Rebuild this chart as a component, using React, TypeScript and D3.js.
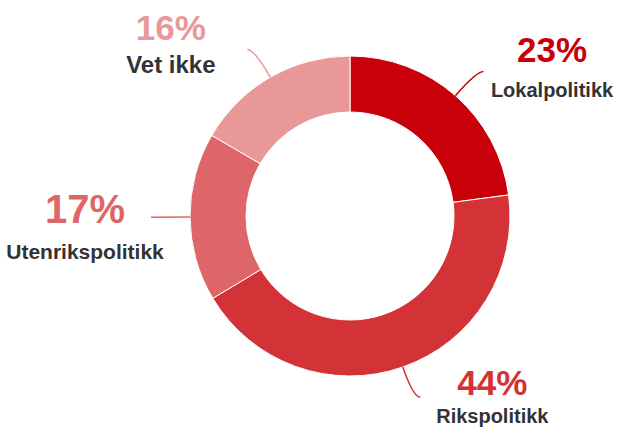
import * as d3 from 'd3'

// data (slice sizes measured from the ring, labels as printed)
const categories = ['Lokalpolitikk', 'Rikspolitikk', 'Utenrikspolitikk', 'Vet ikke']
const shares = [22.9, 43.5, 17.0, 16.6]
const pctLabels = ['23%', '44%', '17%', '16%']
const colors = ['#c80009', '#d33336', '#de6669', '#e99899']

// label layout relative to the end of each leader line
const labelLayout = [
  { dx: 68.5, pctDy: -9.5, nameDy: 25.5, pctSize: 35, nameSize: 20 },
  { dx: 72, pctDy: -2.5, nameDy: 25.5, pctSize: 35, nameSize: 20 },
  { dx: -66, pctDy: 6, nameDy: 42, pctSize: 40, nameSize: 21 },
  { dx: -76.5, pctDy: -9.5, nameDy: 23.5, pctSize: 35, nameSize: 24 },
]

const width = 617
const height = 429
const cx = 350
const cy = 216
const outerR = 160
const innerR = 104
const leaderR = 192

export default function App() {
  const pie = d3
    .pie<number>()
    .sort(null)
    .value((d) => d)
  const arcs = pie(shares)
  const arc = d3.arc<d3.PieArcDatum<number>>().innerRadius(innerR).outerRadius(outerR)

  const polar = (a: number, r: number): [number, number] => [
    Math.sin(a) * r,
    -Math.cos(a) * r,
  ]

  return (
    <svg
      width={width}
      height={height}
      style={{ position: 'absolute', left: 0, top: 0, fontFamily: 'Liberation Sans, Arial, sans-serif' }}
    >
      <g transform={`translate(${cx},${cy})`}>
        {arcs.map((a, i) => (
          <path key={i} d={arc(a) ?? ''} fill={colors[i]} stroke="#fff" strokeWidth={1} />
        ))}
        {arcs.map((a, i) => {
          const mid = (a.startAngle + a.endAngle) / 2
          const sign = Math.sin(mid) >= 0 ? 1 : -1
          const p0 = polar(mid, outerR)
          const p1 = polar(mid, leaderR)
          const p2: [number, number] = [p1[0] + sign * 7, p1[1]]
          const path = d3.path()
          path.moveTo(p0[0], p0[1])
          path.quadraticCurveTo(p1[0], p1[1], p2[0], p2[1])
          const lay = labelLayout[i]
          const lx = p2[0] + lay.dx
          return (
            <g key={i}>
              <path d={path.toString()} fill="none" stroke={colors[i]} strokeWidth={1.5} />
              <text
                x={lx}
                y={p2[1] + lay.pctDy}
                textAnchor="middle"
                fontWeight="bold"
                fontSize={lay.pctSize}
                fill={colors[i]}
              >
                {pctLabels[i]}
              </text>
              <text
                x={lx}
                y={p2[1] + lay.nameDy}
                textAnchor="middle"
                fontWeight="bold"
                fontSize={lay.nameSize}
                fill="#333"
              >
                {categories[i]}
              </text>
            </g>
          )
        })}
      </g>
    </svg>
  )
}
